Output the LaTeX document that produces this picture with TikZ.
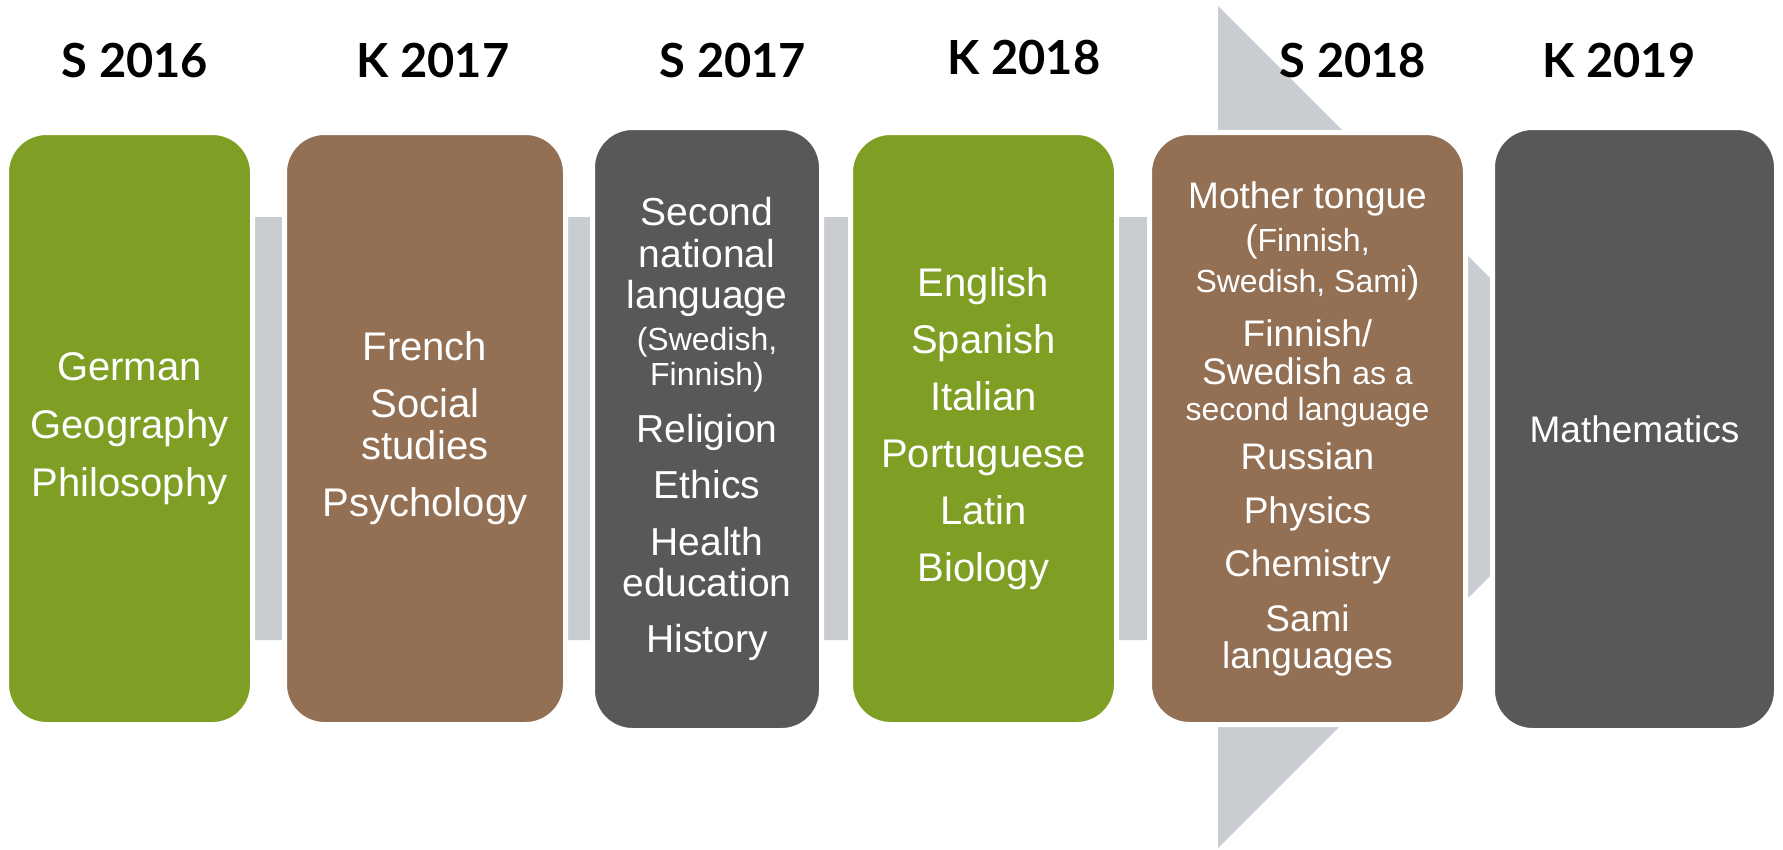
\documentclass[tikz,border=0pt]{standalone}
\usepackage{fontspec}
\setmainfont{Liberation Sans}
\newfontfamily\hdrfont{Lato}
\usetikzlibrary{positioning}
\definecolor{grnbox}{HTML}{7E9F23}
\definecolor{brnbox}{HTML}{936F53}
\definecolor{drkbox}{HTML}{58585A}
\definecolor{arrgray}{HTML}{C9CCD1}
\newcommand\smallfnt{\fontsize{32}{35}\selectfont}

\begin{document}
\begin{tikzpicture}[x=1pt,y=-1pt,
  box/.style={draw=white,line width=5pt,rounded corners=40pt,text=white,align=center,inner sep=0pt,
    minimum height=592pt,font={\fontsize{40}{42}\selectfont}},
  hdr/.style={anchor=base,font={\hdrfont\bfseries\fontsize{47}{50}\selectfont}}]
\useasboundingbox (0,0) rectangle (1783,849);

% big arrow behind the boxes
\fill[arrgray] (20,217) -- (1218,217) -- (1218,6) -- (1639,427) -- (1218,848) -- (1218,640) -- (20,640) -- cycle;

\foreach \t/\x/\y [count=\n] in {S 2016/135/77, K 2017/433/77, S 2017/733/77, K 2018/1024/74, S 2018/1353/77, K 2019/1619/77}
  \node[hdr] (h\n) at (\x,\y) {\t};

\node[box,fill=grnbox,minimum width=246pt] (b1) at (129.5,428.5) {German\\[16pt]Geography\\[16pt]Philosophy};
\node[box,fill=brnbox,minimum width=281pt] (b2) at (425,428.5) {French\\[15pt]Social\\studies\\[15pt]Psychology};
\node[box,fill=drkbox,minimum width=229pt,minimum height=603pt,font={\fontsize{39}{41.5}\selectfont}] (b3) at (707,429)
  {Second\\national\\language\\{\smallfnt(Swedish,}\\[-6pt]{\smallfnt Finnish)}\\[15pt]Religion\\[15pt]Ethics\\[15pt]Health\\education\\[14pt]History};
\node[box,fill=grnbox,minimum width=266pt] (b4) at (983.5,428.5) {English\\[15pt]Spanish\\[15pt]Italian\\[15pt]Portuguese\\[15pt]Latin\\[15pt]Biology};
\node[box,fill=brnbox,minimum width=316pt,font={\fontsize{37}{40}\selectfont}] (b5) at (1307.5,428.5)
  {Mother tongue\\[3pt]({\smallfnt Finnish,}\\[1pt]{\smallfnt Swedish, Sami})\\[14pt]Finnish/\\[-2pt]Swedish {\smallfnt as a}\\[-4pt]{\smallfnt second language}\\[9pt]Russian\\[14pt]Physics\\[13pt]Chemistry\\[15pt]Sami\\[-3pt]languages};
\node[box,fill=drkbox,minimum width=284pt,minimum height=603pt,font={\fontsize{37}{40}\selectfont}] (b6) at (1634.5,429) {Mathematics};
\end{tikzpicture}
\end{document}
